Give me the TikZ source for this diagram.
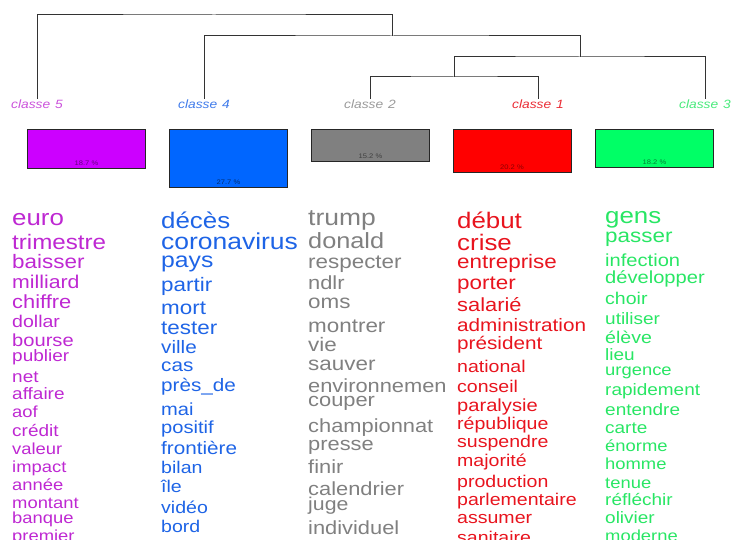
\documentclass[tikz,border=0pt]{standalone}
\usepackage{fontspec}
\setmainfont[FakeStretch=1.15]{Liberation Sans}
\definecolor{cl5}{RGB}{190,40,210}
\definecolor{cl4}{RGB}{30,100,230}
\definecolor{cl2}{RGB}{128,128,128}
\definecolor{cl1}{RGB}{232,20,30}
\definecolor{cl3}{RGB}{40,230,100}
\definecolor{fill5}{RGB}{204,0,255}
\definecolor{fill4}{RGB}{0,102,255}
\definecolor{fill2}{RGB}{128,128,128}
\definecolor{fill1}{RGB}{255,0,0}
\definecolor{fill3}{RGB}{0,255,102}

\begin{document}
\begin{tikzpicture}[x=1pt, y=-1pt,
    box/.style={rectangle, draw=black!85, line width=0.6pt, minimum width=118pt, anchor=north, inner sep=0pt},
    pct/.style={anchor=base, inner sep=0pt, font=\fontsize{6.6}{6.6}\selectfont},
    classe/.style={anchor=base, inner sep=1pt, font=\fontsize{12}{12}\selectfont\itshape},
    word/.style={anchor=base west, inner sep=0pt},
    tree/.style={draw=black!80, line width=1pt}]
        \useasboundingbox (0,0) rectangle (732,540);
        \clip (0,0) rectangle (732,540);

        % Class labels
        \node[classe, text=cl5!80] (c5) at (37,108.5) {classe\hspace{0.4em}5};
        \node[classe, text=cl4!85] (c4) at (204,108.5) {classe\hspace{0.4em}4};
        \node[classe, text=cl2!80] (c2) at (370,108.5) {classe\hspace{0.4em}2};
        \node[classe, text=cl1!90] (c1) at (538,108.5) {classe\hspace{0.4em}1};
        \node[classe, text=cl3!85] (c3) at (705,108.5) {classe\hspace{0.4em}3};

        % Dendrogram
        \coordinate (j21) at (454,77);
        \coordinate (j213) at (580,57);
        \coordinate (j4) at (392,36);
        \coordinate (root) at (214,15);
        \draw[tree] (c2.north) |- (j21) -| (c1.north);
        \draw[tree] (j21) |- (j213) -| (c3.north);
        \draw[tree] (c4.north) |- (j4) -| (j213);
        \draw[tree] (c5.north) |- (root) -| (j4);

        % Class sizes
        \node[box, fill=fill5, minimum height=39pt] (b5) at (86.5,129) {};
        \node[box, fill=fill4, minimum height=58pt] (b4) at (228.5,129) {};
        \node[box, fill=fill2, minimum height=32pt] (b2) at (370.5,129) {};
        \node[box, fill=fill1, minimum height=43pt] (b1) at (512,129) {};
        \node[box, fill=fill3, minimum height=38pt] (b3) at (654.5,129) {};
        \node[pct, text=fill5!50!black] (p5) at ([yshift=3pt]b5.south) {18.7 \%};
        \node[pct, text=fill4!45!black] (p4) at ([yshift=3pt]b4.south) {27.7 \%};
        \node[pct, text=black!75] (p2) at ([yshift=3pt]b2.south) {15.2 \%};
        \node[pct, text=fill1!55!black] (p1) at ([yshift=3pt]b1.south) {20.2 \%};
        \node[pct, text=fill3!50!black] (p3) at ([yshift=3pt]b3.south) {18.2 \%};

        % Words of each class
        \foreach \w/\y/\s [count=\i] in {euro/226/22.5, trimestre/250/21, baisser/269/19.5, milliard/289/18.5, chiffre/309/19, dollar/328/17, bourse/347/17.5, publier/362/16.5, net/383/16.5, affaire/400/16.5, aof/418/16, crédit/437/16.5, valeur/454/16, impact/472/16, année/490/16, montant/508/16, banque/523/16, premier/541/16}
            \node[word, text=cl5, font=\fontsize{\s}{\s}\selectfont] (w5-\i) at (12,\y) {\w};
        \foreach \w/\y/\s [count=\i] in {décès/229/22.5, coronavirus/250/23, pays/268/21.5, partir/292/19.5, mort/315/19.5, tester/335/19.5, ville/354/18, cas/372/18, près\_de/392/18, mai/416/17.5, positif/434/17.5, frontière/454/18, bilan/474/17, île/493/17, vidéo/513/17, bord/532/17}
            \node[word, text=cl4, font=\fontsize{\s}{\s}\selectfont] (w4-\i) at (161,\y) {\w};
        \foreach \w/\y/\s [count=\i] in {trump/226/23, donald/249/22, respecter/269/19.5, ndlr/290/19, oms/309/19.5, montrer/333/19.5, vie/352/19.5, sauver/371/19.5, environnemen/393/19, couper/407/19, championnat/432/19, presse/450/19, finir/473/19, calendrier/495/19, juge/511/18.5, individuel/534/19}
            \node[word, text=cl2, font=\fontsize{\s}{\s}\selectfont] (w2-\i) at (308,\y) {\w};
        \foreach \w/\y/\s [count=\i] in {début/229/22.5, crise/251/22.5, entreprise/269/19.5, porter/290/19.5, salarié/312/19, administration/332/18, président/350/18, national/373/17, conseil/393/17, paralysie/412/17.5, république/430/17, suspendre/448/17, majorité/467/17, production/487/17, parlementaire/505/17, assumer/523/17, sanitaire/543/17}
            \node[word, text=cl1, font=\fontsize{\s}{\s}\selectfont] (w1-\i) at (457,\y) {\w};
        \foreach \w/\y/\s [count=\i] in {gens/224/22.5, passer/243/19.5, infection/267/17.5, développer/284/17.5, choir/305/17, utiliser/325/16.5, élève/344/17, lieu/361/16.5, urgence/376/16, rapidement/396/16.5, entendre/416/16.5, carte/434/16.5, énorme/451/16, homme/470/16, tenue/489/16, réfléchir/505/16.5, olivier/523/16.5, moderne/541/16}
            \node[word, text=cl3, font=\fontsize{\s}{\s}\selectfont] (w3-\i) at (605,\y) {\w};
    \end{tikzpicture}
\end{document}
